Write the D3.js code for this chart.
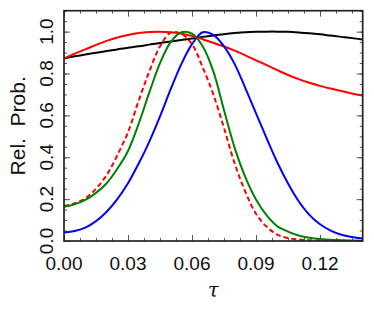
<!DOCTYPE html>
<html>
<head>
<meta charset="utf-8">
<script src="https://cdn.jsdelivr.net/npm/d3@7"></script>
<style>
  body { margin: 0; background: #fff; }
  text { font-family: "Liberation Sans", Arial, sans-serif; fill: #111; }
</style>
</head>
<body>
<div id="chart"></div>
<script>
// tau grid shared by every curve
var tau = d3.range(0, 29).map(i => +(i * 0.005).toFixed(3));

// relative probability
var black = [0.872, 0.882, 0.891, 0.899, 0.907, 0.915, 0.923, 0.930, 0.938, 0.946, 0.953, 0.960, 0.967, 0.975, 0.982,
  0.988, 0.993, 0.997, 0.999, 1.0, 1.0, 0.999, 0.996, 0.992, 0.987, 0.981, 0.975, 0.969, 0.962];
var redSolid = [0.872, 0.895, 0.915, 0.937, 0.956, 0.972, 0.984, 0.993, 0.998, 1.0, 0.997, 0.990, 0.979, 0.964, 0.947,
  0.929, 0.909, 0.887, 0.863, 0.840, 0.816, 0.793, 0.773, 0.756, 0.741, 0.728, 0.716, 0.705, 0.695];
var blue = [0.040, 0.048, 0.064, 0.095, 0.140, 0.200, 0.276, 0.370, 0.475, 0.595, 0.725, 0.845, 0.940, 0.997, 0.985,
  0.930, 0.845, 0.730, 0.610, 0.490, 0.375, 0.275, 0.190, 0.125, 0.080, 0.050, 0.030, 0.019, 0.012];
var green = [0.164, 0.175, 0.196, 0.230, 0.276, 0.345, 0.430, 0.560, 0.710, 0.850, 0.950, 0.997, 0.990, 0.930, 0.810,
  0.625, 0.445, 0.305, 0.198, 0.122, 0.070, 0.045, 0.026, 0.015, 0.010, 0.006, 0.004, 0.002, 0.001];
var redDashed = [0.167, 0.180, 0.204, 0.250, 0.315, 0.410, 0.520, 0.670, 0.810, 0.930, 0.995, 0.990, 0.940, 0.830, 0.700,
  0.540, 0.370, 0.235, 0.130, 0.068, 0.030, 0.014, 0.007, 0.004, 0.002, 0.001, 0.0005, 0.0002, 0.0];

var xTicks = [0, 0.03, 0.06, 0.09, 0.12];
var yTicks = [0, 0.2, 0.4, 0.6, 0.8, 1.0];

var W = 374, H = 309;
var margin = { top: 10.7, right: 11.3, bottom: 68, left: 64 },
  width = W - margin.left - margin.right,
  height = H - margin.top - margin.bottom;

var svg = d3.select("#chart").append("svg")
  .attr("width", W).attr("height", H)
  .append("g")
  .attr("transform", "translate(" + margin.left + "," + margin.top + ")");

var x = d3.scaleLinear().domain([0, 0.14]).range([0, width]);
var y = d3.scaleLinear().domain([0, 1.1]).range([height, 0]);

var xMinor = d3.range(0, 19).map(i => i * 0.0075);
var yMinor = d3.range(0, 23).map(i => i * 0.05);

// ticks pointing inward on all four sides
function tickAxis(axis, vals, size) {
  return axis.tickValues(vals).tickSize(-size).tickFormat("");
}
var tickColor = "#555";
[[d3.axisBottom(x), xMinor, 3, "translate(0," + height + ")"],
 [d3.axisBottom(x), xTicks, 6, "translate(0," + height + ")"],
 [d3.axisTop(x), xMinor, 3, null],
 [d3.axisTop(x), xTicks, 6, null],
 [d3.axisLeft(y), yMinor, 3, null],
 [d3.axisLeft(y), yTicks, 6, null],
 [d3.axisRight(y), yMinor, 3, "translate(" + width + ",0)"],
 [d3.axisRight(y), yTicks, 6, "translate(" + width + ",0)"]
].forEach(function (a) {
  var g = svg.append("g").call(tickAxis(a[0], a[1], a[2]));
  if (a[3]) g.attr("transform", a[3]);
  g.select(".domain").remove();
  g.selectAll("line").attr("stroke", tickColor).attr("stroke-width", 1);
});

// x tick labels
svg.append("g").selectAll("text")
  .data(xTicks).join("text")
  .attr("x", d => x(d)).attr("y", height + 29)
  .attr("text-anchor", "middle")
  .style("font-size", "19px")
  .text(d => d3.format(".2f")(d));

// y tick labels (rotated)
svg.append("g").selectAll("text")
  .data(yTicks).join("text")
  .attr("transform", d => "translate(-11," + y(d) + ")rotate(-90)")
  .attr("text-anchor", "middle")
  .style("font-size", "19px")
  .text(d => d3.format(".1f")(d));

// curves
var line = d3.line()
  .x((d, i) => x(tau[i]))
  .y(d => y(d))
  .curve(d3.curveCatmullRom.alpha(0.5));

var series = [
  { vals: black, color: "#000000", dash: null },
  { vals: redSolid, color: "#ff0000", dash: null },
  { vals: blue, color: "#0000ff", dash: null },
  { vals: redDashed, color: "#ff0000", dash: "5,3" },
  { vals: green, color: "#008000", dash: null }
];
svg.append("clipPath").attr("id", "clip")
  .append("rect").attr("width", width).attr("height", height);

svg.append("g").attr("clip-path", "url(#clip)")
  .selectAll(".curve")
  .data(series).join("path")
  .attr("class", "curve")
  .attr("d", d => line(d.vals))
  .attr("fill", "none")
  .attr("stroke", d => d.color)
  .attr("stroke-width", 2)
  .attr("stroke-dasharray", d => d.dash);

// frame
svg.append("rect")
  .attr("width", width).attr("height", height)
  .attr("fill", "none").attr("stroke", "#222").attr("stroke-width", 1.7);

// axis titles
svg.append("text")
  .attr("transform", "translate(-39," + (height / 2) + ")rotate(-90)")
  .attr("text-anchor", "middle")
  .style("font-size", "21px")
  .style("white-space", "pre")
  .text("Rel.  Prob.");

svg.append("text")
  .attr("x", x(0.07)).attr("y", height + 56)
  .attr("text-anchor", "middle")
  .style("font-family", "'DejaVu Serif', serif")
  .style("font-style", "italic")
  .style("font-size", "20px")
  .text("τ");
</script>
</body>
</html>
